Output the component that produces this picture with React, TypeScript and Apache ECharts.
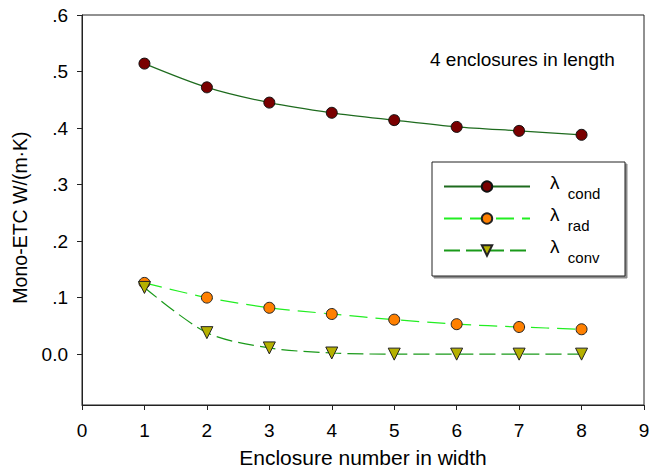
import React, { useEffect, useRef } from "react";
import * as echarts from "echarts";

const xValues = [1, 2, 3, 4, 5, 6, 7, 8];
const condValues = [0.514, 0.472, 0.445, 0.427, 0.414, 0.402, 0.395, 0.388];
const radValues = [0.126, 0.1, 0.082, 0.071, 0.061, 0.053, 0.048, 0.044];
const convValues = [0.118, 0.038, 0.011, 0.002, 0.0, 0.0, 0.0, 0.0];
const yTicks = [0, 0.1, 0.2, 0.3, 0.4, 0.5, 0.6];
const seriesNames = ["cond", "rad", "conv"];

const FONT = "Liberation Sans, Arial, sans-serif";

export default function App() {
  const ref = useRef<HTMLDivElement>(null);
  useEffect(() => {
    if (!ref.current) return;
    const chart = echarts.init(ref.current, undefined, { renderer: "svg" });
    const pair = (vals: number[]) => xValues.map((x, i) => [x, vals[i]]);
    chart.setOption({
      animation: false,
      backgroundColor: "#ffffff",
      textStyle: { fontFamily: FONT },
      grid: {
        left: 82,
        right: 20,
        top: 15,
        bottom: 65,
        show: true,
        borderColor: "#222",
        borderWidth: 1,
      },
      xAxis: {
        type: "value",
        min: 0,
        max: 9,
        interval: 1,
        name: "Enclosure number in width",
        nameLocation: "middle",
        nameGap: 42,
        nameTextStyle: { fontSize: 21, color: "#000", fontFamily: FONT },
        axisLine: { onZero: false, lineStyle: { color: "#222", width: 1 } },
        axisTick: { show: true, length: 5, lineStyle: { color: "#222" } },
        axisLabel: { fontSize: 19, color: "#000", margin: 16, fontFamily: FONT },
        splitLine: { show: false },
      },
      yAxis: {
        type: "value",
        min: -0.09,
        max: 0.6,
        name: "Mono-ETC W/(m·K)",
        nameLocation: "middle",
        nameGap: 52,
        nameRotate: 90,
        nameTextStyle: {
          fontSize: 19.5,
          color: "#000",
          fontFamily: FONT,
          padding: [0, 15, 0, 0],
        },
        axisLine: { show: true, onZero: false, lineStyle: { color: "#222", width: 1 } },
        axisTick: {
          show: true,
          length: 5,
          customValues: yTicks,
          lineStyle: { color: "#222" },
        },
        axisLabel: {
          fontSize: 19,
          color: "#000",
          margin: 14,
          fontFamily: FONT,
          customValues: yTicks,
          formatter: (v: number) =>
            Math.abs(v) < 1e-9 ? "0.0" : "." + Math.round(v * 10),
        },
        splitLine: { show: false },
      },
      legend: {
        orient: "vertical",
        left: 443,
        top: 172,
        padding: 0,
        itemGap: 3,
        itemWidth: 86,
        itemHeight: 13,
        z: 10,
        data: seriesNames,
        formatter: (name: string) => `{l|λ}{s|  ${name}}`,
        textStyle: {
          rich: {
            l: {
              fontSize: 19,
              color: "#000",
              fontFamily: FONT,
              lineHeight: 20,
              padding: [0, 0, 8, 15],
            },
            s: {
              fontSize: 15,
              color: "#000",
              fontFamily: FONT,
              lineHeight: 15,
              padding: [14, 0, 0, 0],
            },
          },
        },
      },
      graphic: [
        {
          type: "rect",
          z: 1,
          shape: { x: 432, y: 162, width: 193, height: 114 },
          style: {
            fill: "#fff",
            stroke: "#222",
            lineWidth: 1,
            shadowColor: "rgba(0,0,0,0.45)",
            shadowOffsetX: 2,
            shadowOffsetY: 2,
            shadowBlur: 0,
          },
        },
        {
          type: "text",
          left: 430,
          top: 50,
          style: {
            text: "4 enclosures in length",
            fontSize: 19,
            fill: "#000",
            fontFamily: FONT,
          },
        },
      ],
      series: [
        {
          name: "cond",
          type: "line",
          data: pair(condValues),
          smooth: 0.3,
          symbol: "circle",
          symbolSize: 11,
          itemStyle: { color: "#7a0000", borderColor: "#111", borderWidth: 1 },
          lineStyle: { color: "#1e6b1e", width: 1.2, type: "solid" },
        },
        {
          name: "rad",
          type: "line",
          data: pair(radValues),
          smooth: 0.3,
          symbol: "circle",
          symbolSize: 11,
          itemStyle: { color: "#ff8000", borderColor: "#222", borderWidth: 1 },
          lineStyle: { color: "#22ee22", width: 1.2, type: [18, 8] },
        },
        {
          name: "conv",
          type: "line",
          data: pair(convValues),
          smooth: 0.3,
          symbol: "triangle",
          symbolRotate: 180,
          symbolSize: 12,
          itemStyle: { color: "#b5b000", borderColor: "#222", borderWidth: 1 },
          lineStyle: { color: "#1a9a1a", width: 1.2, type: [16, 6] },
        },
      ],
    });
    return () => chart.dispose();
  }, []);
  return (
    <div
      ref={ref}
      style={{ position: "absolute", left: 0, top: 0, width: 664, height: 473 }}
    />
  );
}
